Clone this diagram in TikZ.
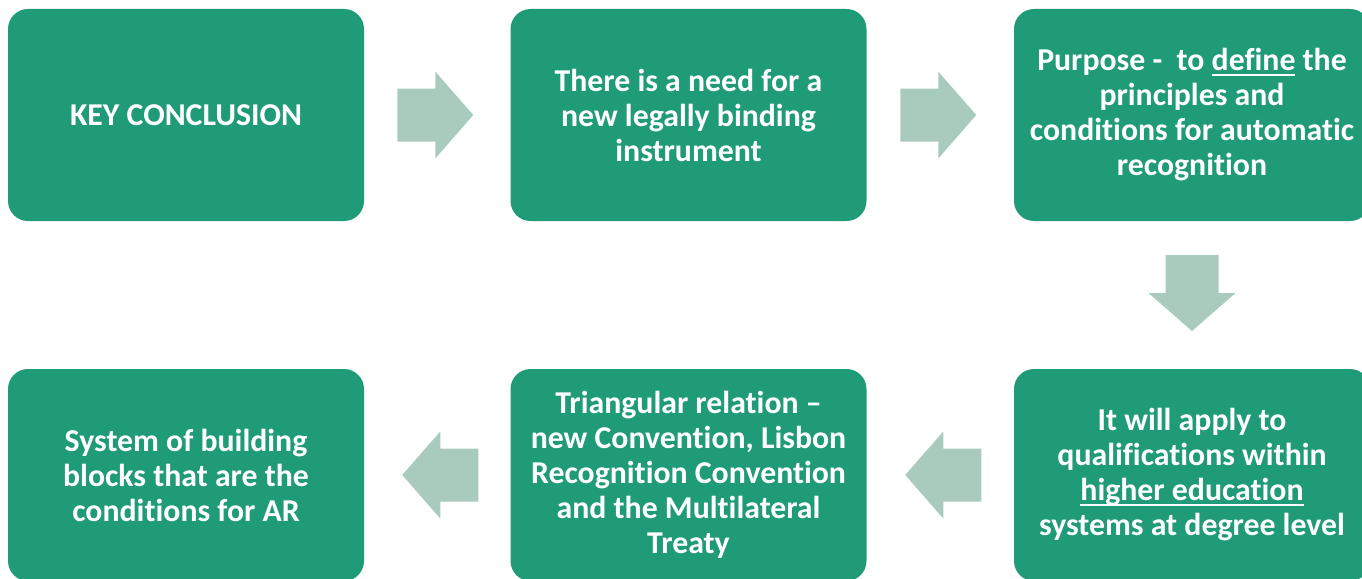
\documentclass[tikz,border=0pt]{standalone}
\usepackage{fontspec}
\setmainfont{Carlito}[Ligatures=NoCommon]
\usetikzlibrary{calc}
\definecolor{boxgreen}{RGB}{31,155,120}
\definecolor{arrowgreen}{RGB}{169,203,190}
\newcommand{\uln}[1]{\setbox0\hbox{#1}\rlap{\rule[-5pt]{\wd0}{2pt}}\box0\relax}
\tikzset{
  stagebox/.style={rectangle, rounded corners=20pt, fill=boxgreen, draw=none,
    minimum width=356pt, minimum height=212pt, inner sep=0pt, align=center,
    text=white, font=\bfseries\fontsize{31.8}{35}\selectfont},
  blockarrow/.pic={\fill[arrowgreen] (-38,-26.5) -- (0,-26.5) -- (0,-43.5) -- (38,0)
     -- (0,43.5) -- (0,26.5) -- (-38,26.5) -- cycle;}
}
\begin{document}
\begin{tikzpicture}[x=1pt,y=-1pt]
\useasboundingbox (0,0) rectangle (1362,578);
\clip (0,0) rectangle (1362,578);
\node[stagebox] (b1) at (186,115) {KEY CONCLUSION};
\node[stagebox] (b2) at (688.5,115) {There is a need for a\\new legally binding\\instrument};
\node[stagebox] (b3) at (1192,115) {Purpose -\ \ to \uln{define} the\\principles and\\conditions for automatic\\recognition};
\node[stagebox] (b4) at (186,475) {System of building\\blocks that are the\\conditions for AR};
\node[stagebox] (b5) at (688.5,475) {Triangular relation –\\new Convention, Lisbon\\Recognition Convention\\and the Multilateral\\Treaty};
\node[stagebox] (b6) at (1192,475) {It will apply to\\qualifications within\\\uln{higher education}\\systems at degree level};
\coordinate (a1) at ($(b1.east)!0.5!(b2.west)+(-2,0)$);
\coordinate (a2) at ($(b2.east)!0.5!(b3.west)+(-2,0)$);
\coordinate (a3) at ($(b3.south)!0.5!(b6.north)+(0,-2)$);
\coordinate (a4) at ($(b6.west)!0.5!(b5.east)+(3,0)$);
\coordinate (a5) at ($(b5.west)!0.5!(b4.east)+(3,0)$);
\pic at (a1) {blockarrow};
\pic at (a2) {blockarrow};
\pic[rotate=-90] at (a3) {blockarrow};
\pic[rotate=180] at (a4) {blockarrow};
\pic[rotate=180] at (a5) {blockarrow};
\end{tikzpicture}
\end{document}
